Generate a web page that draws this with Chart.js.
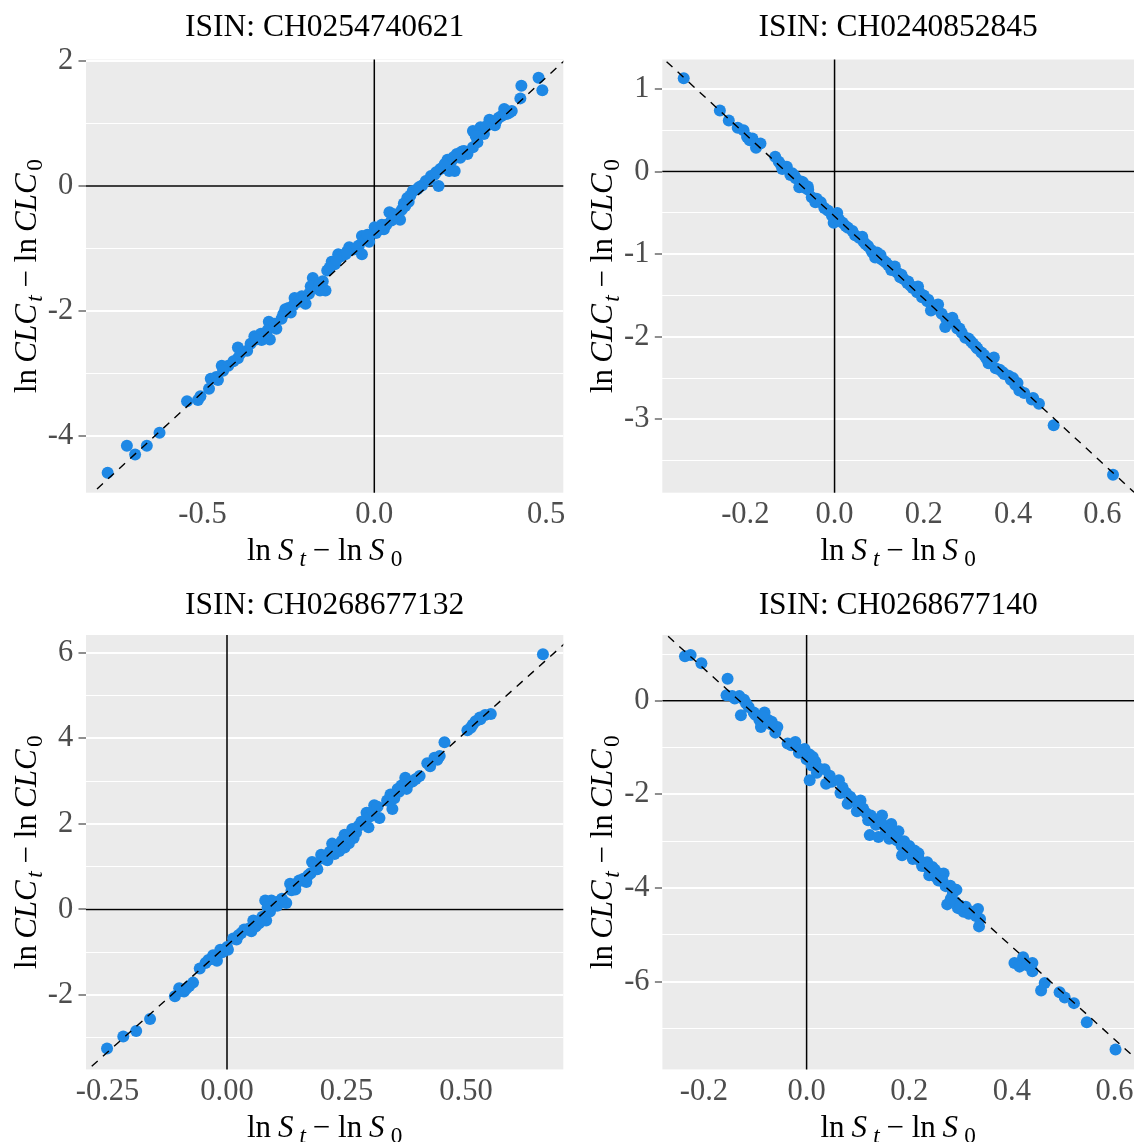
<!DOCTYPE html>
<html>
<head>
<meta charset="utf-8">
<script src="https://cdn.jsdelivr.net/npm/chart.js@4.4.1/dist/chart.umd.min.js"></script>
<style>
html,body{margin:0;padding:0;background:#ffffff;}
#wrap{position:relative;width:1140px;height:1142px;}
.cell{position:absolute;width:570px;height:571px;}
canvas{display:block;}
</style>
</head>
<body>
<div id="wrap">
  <div class="cell" style="left:0;top:0"><canvas id="c1" width="570" height="571"></canvas></div>
  <div class="cell" style="left:570px;top:0"><canvas id="c2" width="570" height="571"></canvas></div>
  <div class="cell" style="left:0;top:571px"><canvas id="c3" width="570" height="571"></canvas></div>
  <div class="cell" style="left:570px;top:571px"><canvas id="c4" width="570" height="571"></canvas></div>
</div>
<script>
// ---------------- DATA ----------------
const titles = ["ISIN: CH0254740621", "ISIN: CH0240852845", "ISIN: CH0268677132", "ISIN: CH0268677140"];

// Panel 1
const p1X = [-0.776,-0.720,-0.696,-0.662,-0.625,-0.545,-0.513,-0.506,-0.476,-0.455,-0.481,-0.444,-0.425,-0.397,-0.397,-0.370,-0.349,-0.328,-0.307,-0.304,-0.285,-0.259,-0.243,-0.232,-0.211,-0.200,-0.179,-0.169,-0.158,-0.142,-0.137,-0.124,-0.105,-0.084,-0.073,-0.057,-0.036,-0.036,-0.015,0.001,0.017,0.028,0.044,0.060,0.075,0.086,0.096,0.112,0.139,0.165,0.187,0.192,0.213,0.218,0.234,0.240,0.261,0.271,0.287,0.287,0.309,0.319,0.335,0.351,0.362,0.378,0.393,0.425,0.428,0.478,0.489,
  -0.46,-0.41,-0.36,-0.33,-0.31,-0.27,-0.25,-0.22,-0.19,-0.17,-0.15,-0.115,-0.095,-0.065,-0.045,-0.025,0.005,0.035,0.05,0.068,0.08,0.10,0.125,0.15,0.175,0.20,0.225,0.25,0.295,0.34,0.37,
  -0.44,-0.39,-0.345,-0.29,-0.265,-0.235,-0.205,-0.185,-0.16,-0.13,-0.11,-0.08,-0.05,-0.02,0.01,0.022,0.058,0.09,0.105,0.13,0.16,0.18,0.205,0.23,0.255,0.30,0.325,0.355,0.385,0.40];
const p1Y = [-4.58,-4.15,-4.29,-4.15,-3.94,-3.44,-3.42,-3.36,-3.08,-3.10,-3.24,-2.87,-2.87,-2.58,-2.75,-2.63,-2.40,-2.46,-2.17,-2.45,-2.28,-1.97,-2.02,-1.79,-1.76,-1.88,-1.47,-1.62,-1.67,-1.67,-1.35,-1.21,-1.09,-1.09,-0.98,-1.01,-1.09,-0.80,-0.89,-0.66,-0.69,-0.69,-0.42,-0.51,-0.54,-0.28,-0.19,-0.08,0.01,0.16,0.00,0.27,0.42,0.24,0.24,0.51,0.56,0.51,0.62,0.88,0.94,0.83,1.06,0.97,1.09,1.23,1.17,1.40,1.60,1.73,1.53,
  -3.05,-2.80,-2.52,-2.36,-2.30,-2.12,-1.95,-1.85,-1.72,-1.55,-1.52,-1.25,-1.12,-1.02,-0.95,-0.85,-0.75,-0.62,-0.55,-0.47,-0.38,-0.25,-0.05,0.08,0.18,0.30,0.40,0.45,0.80,1.02,1.12,
  -2.95,-2.68,-2.45,-2.20,-2.05,-1.90,-1.80,-1.60,-1.58,-1.30,-1.18,-1.05,-0.98,-0.78,-0.70,-0.62,-0.45,-0.32,-0.15,-0.02,0.10,0.22,0.35,0.46,0.55,0.70,0.95,1.04,1.15,1.20];
const fit1X = [-1.0, 0.7];
const fit1Y = [-5.81, 2.74];
const p1XRange = [-0.839, 0.550];
const p1YRange = [-4.899, 2.021];
const p1XTicks = [-0.5, 0, 0.5];
const p1XLabels = ["-0.5", "0.0", "0.5"];
const p1YTicks = [-4, -2, 0, 2];
const p1YLabels = ["-4", "-2", "0", "2"];
const p1YMinor = [-3, -1, 1];

// Panel 2
const p2X = [-0.338,-0.257,-0.237,-0.217,-0.204,-0.196,-0.184,-0.176,-0.166,-0.133,-0.125,-0.117,-0.107,-0.099,-0.087,-0.079,-0.071,-0.059,-0.051,-0.043,-0.031,-0.023,-0.006,0.006,-0.002,0.018,0.030,0.046,0.062,0.070,0.082,0.091,0.103,0.115,0.127,0.135,0.147,0.163,0.175,0.187,0.196,0.208,0.216,0.232,0.248,0.256,0.264,0.280,0.293,0.305,0.317,0.329,0.345,0.357,0.361,0.377,0.390,0.410,0.414,0.442,0.458,0.491,0.624,
  -0.09,-0.06,0.0,0.04,0.055,0.075,0.095,0.11,0.12,0.14,0.155,0.17,0.185,0.20,0.225,0.24,0.27,0.285,0.31,0.335,0.35,0.37,0.40,0.425,
  -0.19,-0.12,-0.095,-0.075,-0.065,-0.04,-0.015,0.01,0.025,0.065,0.085,0.105,0.13,0.15,0.165,0.19,0.21,0.23,0.25,0.275,0.30,0.32,0.34,0.38,0.395,0.405,0.445];
const p2Y = [1.13,0.74,0.62,0.53,0.50,0.42,0.40,0.29,0.34,0.18,0.12,0.03,0.06,-0.04,-0.08,-0.19,-0.13,-0.22,-0.31,-0.37,-0.37,-0.44,-0.53,-0.50,-0.62,-0.62,-0.68,-0.77,-0.79,-0.88,-0.95,-1.04,-1.01,-1.10,-1.19,-1.15,-1.28,-1.35,-1.41,-1.39,-1.52,-1.57,-1.68,-1.61,-1.88,-1.81,-1.77,-1.90,-2.01,-2.05,-2.12,-2.19,-2.32,-2.25,-2.38,-2.43,-2.47,-2.56,-2.65,-2.76,-2.81,-3.07,-3.67,
  -0.05,-0.18,-0.58,-0.72,-0.80,-0.90,-0.98,-1.08,-1.13,-1.22,-1.30,-1.38,-1.46,-1.50,-1.62,-1.72,-1.84,-1.95,-2.08,-2.22,-2.30,-2.40,-2.50,-2.68,
  0.38,0.08,-0.02,-0.12,-0.20,-0.33,-0.47,-0.58,-0.66,-0.85,-0.98,-1.06,-1.16,-1.25,-1.33,-1.46,-1.55,-1.66,-1.78,-1.90,-2.02,-2.14,-2.26,-2.45,-2.52,-2.58,-2.74];
const fit2X = [-0.5, 0.8];
const fit2Y = [1.946, -4.523];
const p2XRange = [-0.386, 0.671];
const p2YRange = [-3.887, 1.357];
const p2XTicks = [-0.2, 0, 0.2, 0.4, 0.6];
const p2XLabels = ["-0.2", "0.0", "0.2", "0.4", "0.6"];
const p2YTicks = [-3, -2, -1, 0, 1];
const p2YLabels = ["-3", "-2", "-1", "0", "1"];
const p2YMinor = [-3.5, -2.5, -1.5, -0.5, 0.5];

// Panel 3
const p3X = [-0.251,-0.217,-0.190,-0.161,-0.109,-0.100,-0.090,-0.079,-0.071,-0.057,-0.039,-0.029,-0.021,-0.014,0.002,0.013,0.024,0.036,0.051,0.055,0.067,0.074,0.082,0.080,0.093,0.105,0.112,0.124,0.132,0.143,0.151,0.166,0.178,0.189,0.197,0.208,0.220,0.235,0.246,0.246,0.262,0.265,0.281,0.292,0.296,0.308,0.319,0.346,0.342,0.357,0.373,0.376,0.388,0.403,0.419,0.434,0.445,0.455,0.503,0.514,0.529,0.552,0.661,
  0.00,0.03,0.06,0.09,0.115,0.16,0.175,0.21,0.225,0.255,0.27,0.285,0.30,0.335,0.36,0.395,0.425,0.52,0.54,
  -0.095,-0.085,-0.045,-0.03,-0.01,0.02,0.045,0.07,0.085,0.10,0.135,0.145,0.17,0.185,0.20,0.215,0.24,0.25,0.275,0.29,0.305,0.315,0.35,0.365,0.38,0.44,0.51,0.53];
const p3Y = [-3.25,-2.97,-2.84,-2.56,-2.03,-1.84,-1.92,-1.79,-1.71,-1.38,-1.18,-1.07,-1.20,-0.94,-0.94,-0.68,-0.60,-0.47,-0.51,-0.26,-0.32,-0.17,-0.26,0.21,0.21,0.09,0.21,0.15,0.60,0.47,0.68,0.64,1.11,0.94,1.28,1.24,1.54,1.37,1.45,1.75,1.88,1.67,2.05,2.26,1.92,2.44,2.14,2.35,2.69,2.82,3.08,2.82,2.99,3.12,3.42,3.55,3.59,3.91,4.19,4.32,4.49,4.57,5.97,
  -0.88,-0.55,-0.40,-0.05,0.25,0.72,0.85,1.15,1.30,1.55,1.80,2.00,2.18,2.55,2.75,3.05,3.35,4.40,4.55,
  -1.90,-1.85,-1.25,-1.15,-1.00,-0.70,-0.45,-0.25,0.05,0.15,0.45,0.60,0.80,1.05,1.20,1.35,1.60,1.70,1.95,2.10,2.30,2.40,2.60,2.90,2.95,3.50,4.25,4.45];
const fit3X = [-0.4, 0.8];
const fit3Y = [-4.836, 7.152];
const p3XRange = [-0.295, 0.7036];
const p3YRange = [-3.739, 6.418];
const p3XTicks = [-0.25, 0, 0.25, 0.5];
const p3XLabels = ["-0.25", "0.00", "0.25", "0.50"];
const p3YTicks = [-2, 0, 2, 4, 6];
const p3YLabels = ["-2", "0", "2", "4", "6"];
const p3YMinor = [-3, -1, 1, 3, 5];

// Panel 4
const p4X = [-0.237,-0.226,-0.205,-0.154,-0.156,-0.145,-0.131,-0.122,-0.128,-0.113,-0.103,-0.092,-0.089,-0.082,-0.075,-0.068,-0.061,-0.057,-0.037,-0.022,-0.015,-0.004,0.006,0.010,0.017,0.006,0.020,0.035,0.038,0.049,0.063,0.066,0.077,0.080,0.091,0.098,0.105,0.116,0.123,0.130,0.140,0.147,0.151,0.161,0.165,0.176,0.179,0.186,0.193,0.200,0.207,0.218,0.225,0.235,0.239,0.250,0.257,0.267,0.271,0.274,0.281,0.292,0.295,0.306,0.316,0.334,0.338,0.336,0.405,0.422,0.415,0.440,0.440,0.464,0.457,0.493,0.503,0.521,0.546,0.602,
  0.10,0.12,0.135,0.155,0.17,0.19,0.205,0.215,0.23,0.245,0.26,0.285,0.31,0.325,
  -0.14,-0.118,-0.10,-0.085,-0.07,-0.03,-0.01,0.0,0.012,0.025,0.045,0.07,0.085,0.11,0.125,0.145,0.16,0.175,0.185,0.20,0.21,0.22,0.235,0.25,0.265,0.28,0.29,0.30,0.32,0.33,0.43];
const p4Y = [0.95,0.98,0.80,0.47,0.12,0.10,0.10,0.02,-0.31,-0.13,-0.25,-0.41,-0.56,-0.25,-0.41,-0.45,-0.68,-0.56,-0.91,-0.88,-1.11,-1.03,-1.15,-1.38,-1.30,-1.70,-1.54,-1.46,-1.77,-1.73,-1.70,-1.97,-1.97,-2.20,-2.13,-2.36,-2.13,-2.40,-2.87,-2.52,-2.91,-2.45,-2.67,-2.95,-2.63,-2.98,-2.79,-3.30,-3.14,-3.10,-3.38,-3.26,-3.53,-3.45,-3.73,-3.61,-3.84,-3.69,-3.96,-4.35,-4.23,-4.04,-4.43,-4.51,-4.55,-4.45,-4.66,-4.82,-5.60,-5.48,-5.68,-5.60,-5.78,-6.03,-6.19,-6.23,-6.34,-6.46,-6.87,-7.45,
  -2.20,-2.55,-2.65,-2.80,-2.88,-3.00,-3.20,-3.35,-3.48,-3.55,-3.70,-4.10,-4.40,-4.55,
  0.05,-0.05,-0.30,-0.35,-0.50,-0.95,-1.05,-1.25,-1.20,-1.45,-1.60,-1.85,-2.05,-2.30,-2.45,-2.60,-2.75,-2.85,-3.10,-3.25,-3.20,-3.40,-3.55,-3.75,-3.85,-3.95,-4.30,-4.38,-4.50,-4.60,-5.65];
const fit4X = [-0.4, 0.8];
const fit4Y = [2.666, -9.214];
const p4XRange = [-0.281, 0.638];
const p4YRange = [-7.876, 1.406];
const p4XTicks = [-0.2, 0, 0.2, 0.4, 0.6];
const p4XLabels = ["-0.2", "0.0", "0.2", "0.4", "0.6"];
const p4YTicks = [-6, -4, -2, 0];
const p4YLabels = ["-6", "-4", "-2", "0"];
const p4YMinor = [-7, -5, -3, -1, 1];

// reference lines
const refX = [0];
const refY = [0];

// axis title pieces (math notation)
const xTitleParts = [
  {t:"ln"}, {t:"S", i:1, g:0.22}, {t:"t", i:1, sub:1, g:0.2}, {t:"\u2212", g:0.22}, {t:"ln", g:0.25}, {t:"S", i:1, g:0.22}, {t:"0", sub:1, g:0.2}
];
const yTitleParts = [
  {t:"ln"}, {t:"CLC", i:1, g:0.2}, {t:"t", i:1, sub:1, g:0.08}, {t:"\u2212", g:0.25}, {t:"ln", g:0.25}, {t:"CLC", i:1, g:0.2}, {t:"0", sub:1, g:0.08}
];

// ---------------- RENDER ----------------
const FAMILY = '"Liberation Serif", "Times New Roman", serif';
const TICK_COLOR = '#4D4D4D';
const PANEL_BG = '#EBEBEB';
const POINT_COLOR = '#1E88E5';

const panels = [
  {id:'c1', title:titles[0], xs:p1X, ys:p1Y, fx:fit1X, fy:fit1Y, xr:p1XRange, yr:p1YRange, xt:p1XTicks, xl:p1XLabels, yt:p1YTicks, yl:p1YLabels, ym:p1YMinor, L:86, R:6.7, tp:[9.1,12.6], xH:78.3},
  {id:'c2', title:titles[1], xs:p2X, ys:p2Y, fx:fit2X, fy:fit2Y, xr:p2XRange, yr:p2YRange, xt:p2XTicks, xl:p2XLabels, yt:p2YTicks, yl:p2YLabels, ym:p2YMinor, L:92.3, R:2, tp:[9.1,12.6], xH:78.3},
  {id:'c3', title:titles[2], xs:p3X, ys:p3Y, fx:fit3X, fy:fit3Y, xr:p3XRange, yr:p3YRange, xt:p3XTicks, xl:p3XLabels, yt:p3YTicks, yl:p3YLabels, ym:p3YMinor, L:86, R:6.7, tp:[15.7,10.5], xH:72.6},
  {id:'c4', title:titles[3], xs:p4X, ys:p4Y, fx:fit4X, fy:fit4Y, xr:p4XRange, yr:p4YRange, xt:p4XTicks, xl:p4XLabels, yt:p4YTicks, yl:p4YLabels, ym:p4YMinor, L:92.4, R:2, tp:[15.7,10.5], xH:72.6}
];

function drawMath(ctx, parts, size, cx, cy, rot) {
  ctx.save();
  ctx.translate(cx, cy);
  if (rot) ctx.rotate(rot);
  const subScale = 0.75, shift = 0.2 * size;
  let w = 0;
  const items = parts.map(p => {
    const s = p.sub ? size * subScale : size;
    const font = (p.i ? 'italic ' : '') + s + 'px ' + FAMILY;
    ctx.font = font;
    const tw = ctx.measureText(p.t).width;
    const g = (p.g || 0) * size;
    const it = {t:p.t, font:font, x:w + g, dy:p.sub ? shift : 0};
    w += g + tw;
    return it;
  });
  ctx.fillStyle = '#000000';
  ctx.textAlign = 'left';
  ctx.textBaseline = 'alphabetic';
  items.forEach(it => { ctx.font = it.font; ctx.fillText(it.t, it.x - w / 2, it.dy); });
  ctx.restore();
}

const panelBg = {
  id: 'panelBg',
  beforeDraw(chart) {
    const a = chart.chartArea, ctx = chart.ctx;
    ctx.save();
    ctx.fillStyle = PANEL_BG;
    ctx.fillRect(a.left, a.top, a.right - a.left, a.bottom - a.top);
    ctx.restore();
  }
};

const refLines = {
  id: 'refLines',
  beforeDatasetsDraw(chart) {
    const a = chart.chartArea, ctx = chart.ctx, xs = chart.scales.x, ys = chart.scales.y;
    ctx.save();
    ctx.strokeStyle = '#000000';
    ctx.lineWidth = 1.5;
    ctx.beginPath();
    refX.forEach(v => { const px = xs.getPixelForValue(v); ctx.moveTo(px, a.top); ctx.lineTo(px, a.bottom); });
    refY.forEach(v => { const py = ys.getPixelForValue(v); ctx.moveTo(a.left, py); ctx.lineTo(a.right, py); });
    ctx.stroke();
    ctx.restore();
  }
};

const axisTitles = {
  id: 'axisTitles',
  afterDraw(chart) {
    const a = chart.chartArea, ctx = chart.ctx;
    drawMath(ctx, xTitleParts, 31, (a.left + a.right) / 2, a.bottom + 67.5, 0);
    drawMath(ctx, yTitleParts, 31, a.left - 50, (a.top + a.bottom) / 2, -Math.PI / 2);
  }
};

panels.forEach(p => {
  const pts = p.xs.map((x, i) => ({x: x, y: p.ys[i]}));
  const fitPts = p.fx.map((x, i) => ({x: x, y: p.fy[i]}));
  const yAll = p.yt.concat(p.ym).sort((a, b) => a - b);
  const isMajorY = v => p.yt.indexOf(v) !== -1;
  new Chart(document.getElementById(p.id), {
    type: 'scatter',
    data: {
      datasets: [
        {
          data: fitPts, showLine: true, borderColor: '#000000', borderWidth: 1.4,
          borderDash: [8, 7], pointRadius: 0, pointHoverRadius: 0, fill: false
        },
        {
          data: pts, backgroundColor: POINT_COLOR, borderWidth: 0,
          pointRadius: 6, pointHoverRadius: 6, pointBorderWidth: 0, showLine: false
        }
      ]
    },
    options: {
      responsive: false,
      animation: false,
      events: [],
      layout: { padding: { left: 0, right: p.R, top: 0, bottom: 0 } },
      plugins: {
        legend: { display: false },
        tooltip: { enabled: false },
        title: {
          display: true, text: p.title, fullSize: false, color: '#000000',
          font: { family: FAMILY, size: 31.5, weight: 'normal' },
          padding: { top: p.tp[0], bottom: p.tp[1] }
        }
      },
      scales: {
        x: {
          type: 'linear', min: p.xr[0], max: p.xr[1],
          grid: { display: false, drawTicks: false },
          border: { display: false },
          afterBuildTicks: s => { s.ticks = p.xt.map(v => ({value: v})); },
          afterFit: s => { s.height = p.xH; },
          ticks: {
            autoSkip: false, maxRotation: 0, minRotation: 0, padding: 4, color: TICK_COLOR,
            font: { family: FAMILY, size: 30.5 },
            callback: v => { const k = p.xt.indexOf(v); return k === -1 ? '' : p.xl[k]; }
          }
        },
        y: {
          type: 'linear', min: p.yr[0], max: p.yr[1],
          grid: {
            display: true, drawOnChartArea: true, drawTicks: true, tickLength: 7.5,
            color: '#FFFFFF',
            lineWidth: c => (c.tick && isMajorY(c.tick.value)) ? 2 : 1,
            tickColor: c => (c.tick && isMajorY(c.tick.value)) ? '#333333' : 'rgba(0,0,0,0)',
            tickWidth: 1.1
          },
          border: { display: false },
          afterBuildTicks: s => { s.ticks = yAll.map(v => ({value: v})); },
          afterFit: s => { s.width = p.L; },
          ticks: {
            autoSkip: false, padding: 5.3, color: TICK_COLOR,
            font: { family: FAMILY, size: 30.5 },
            callback: v => { const k = p.yt.indexOf(v); return k === -1 ? '' : p.yl[k]; }
          }
        }
      }
    },
    plugins: [panelBg, refLines, axisTitles]
  });
});
</script>
</body>
</html>
